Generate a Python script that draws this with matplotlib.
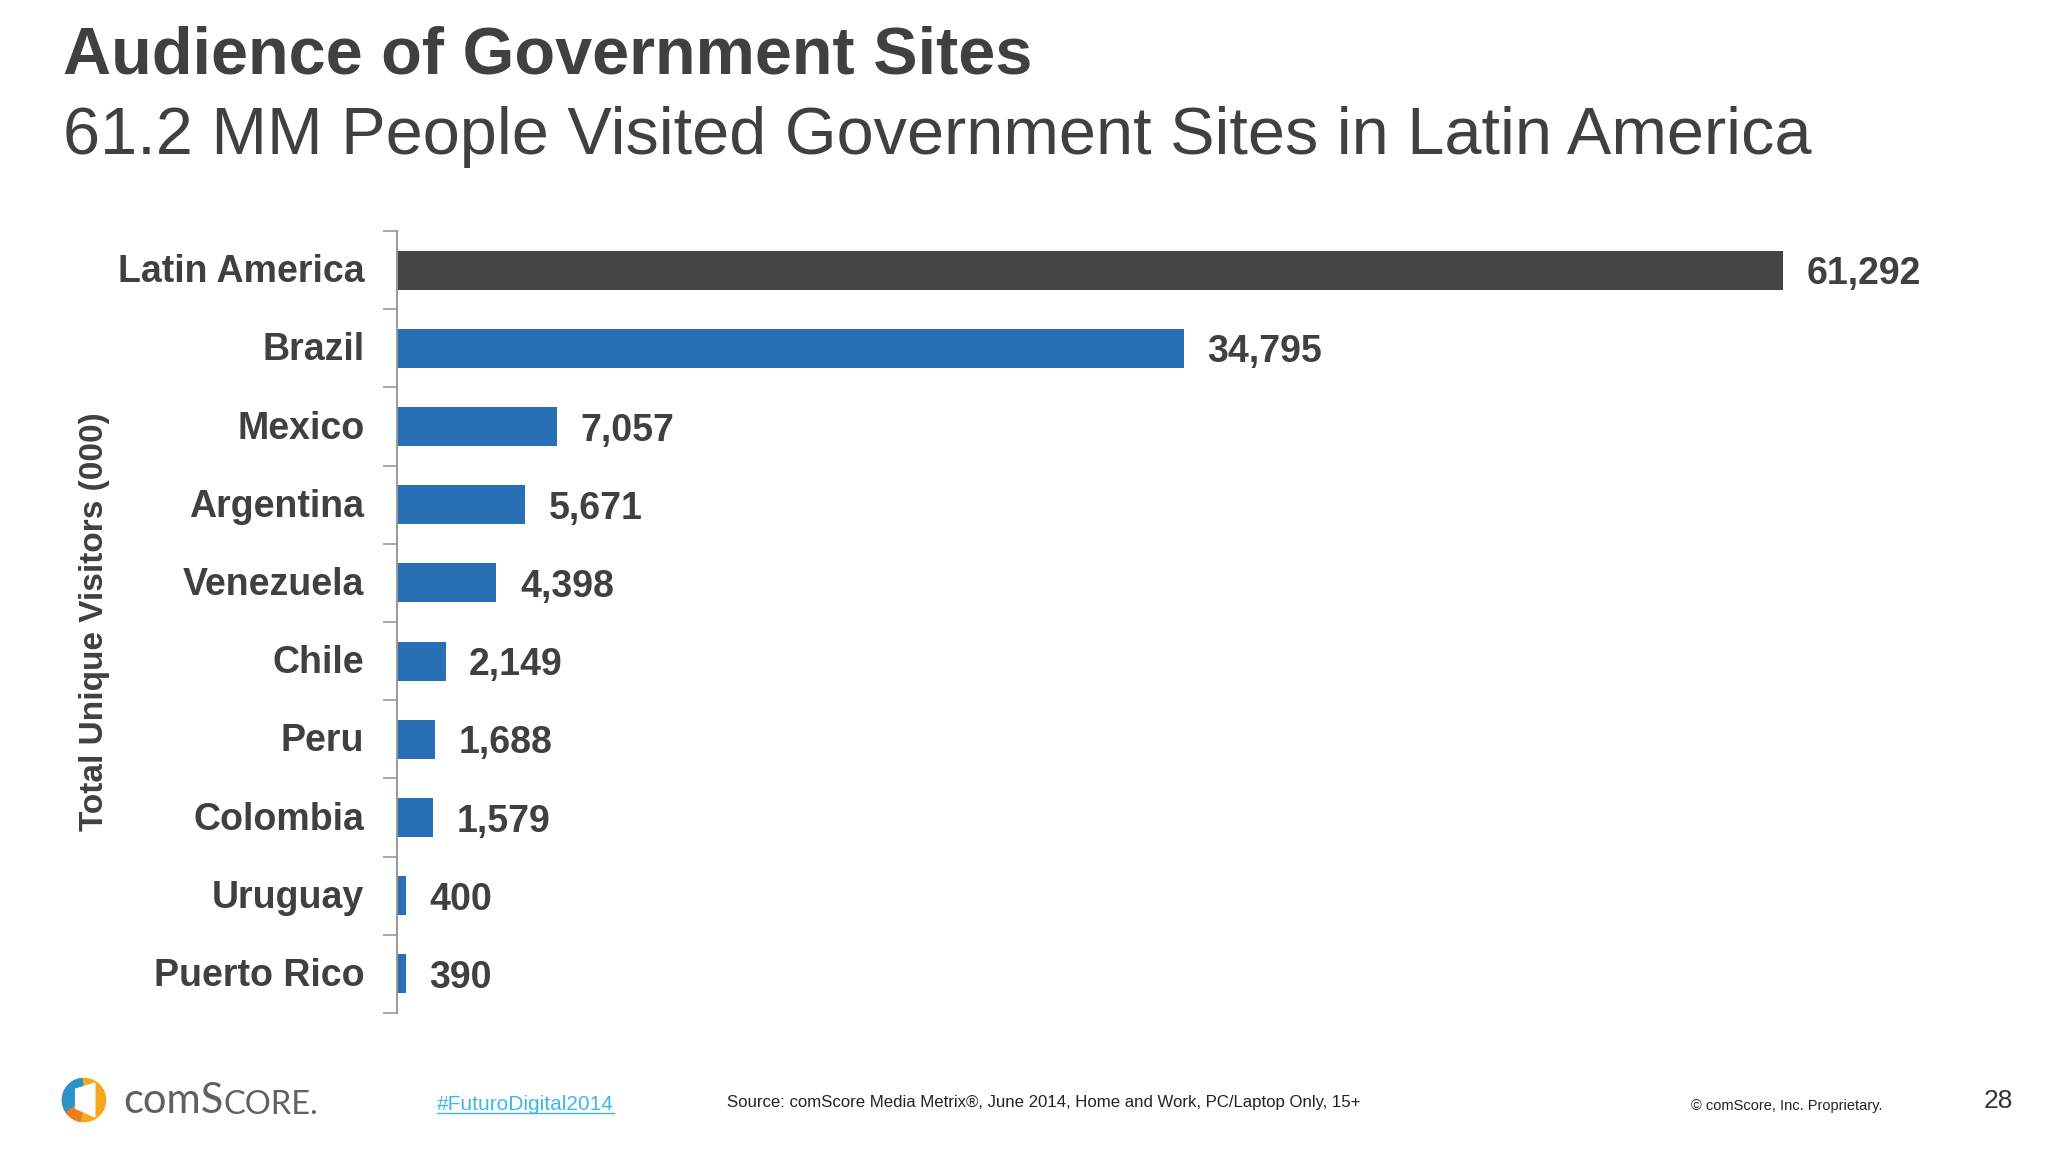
import matplotlib
matplotlib.use("Agg")
import matplotlib.pyplot as plt
from matplotlib.patches import Circle, Wedge, Polygon
from matplotlib.lines import Line2D

plt.rcParams['font.family'] = ['Liberation Sans', 'DejaVu Sans']

# data (thousands of unique visitors)
countries = ["Latin America", "Brazil", "Mexico", "Argentina", "Venezuela",
             "Chile", "Peru", "Colombia", "Uruguay", "Puerto Rico"]
visitors = [61292, 34795, 7057, 5671, 4398, 2149, 1688, 1579, 400, 390]
bar_colors = ["#454545"] + ["#2870B6"] * 9

title = "Audience of Government Sites"
subtitle = "61.2 MM People Visited Government Sites in Latin America"
ylabel = "Total Unique Visitors (000)"
source = "Source: comScore Media Metrix®, June 2014, Home and Work, PC/Laptop Only, 15+"

W, H = 2048, 1152
txt = "#404040"

fig = plt.figure(figsize=(W / 100, H / 100), dpi=100)

# axes box in pixels: x 397..1950, y 231..1013 (from top)
ax = fig.add_axes([397 / W, 1 - 1013 / H, (1950 - 397) / W, (1013 - 231) / H])
pos = list(range(len(countries)))
bars = ax.barh(pos, visitors, height=0.5, color=bar_colors)
ax.set_ylim(len(countries) - 0.5, -0.5)
ax.set_xlim(0, 61292 * (1950 - 397) / (1783 - 397))

# tick marks between categories
ax.set_yticks([p - 0.5 for p in range(len(countries) + 1)])
ax.set_yticklabels([])
ax.tick_params(axis='y', which='major', length=10, width=1.2, color="#999999")

ax.xaxis.set_visible(False)
for s in ["top", "right", "bottom"]:
    ax.spines[s].set_visible(False)
ax.spines["left"].set_color("#999999")
ax.spines["left"].set_linewidth(1.4)

# category names
for p, c in zip(pos, countries):
    ax.annotate(c, (0, p), xycoords=('axes fraction', 'data'),
                xytext=(-23.5, -1.5), textcoords='offset points',
                ha='right', va='center', fontsize=27, fontweight='bold', color=txt)

# value labels
for b, v in zip(bars, visitors):
    ax.annotate(f"{v:,}", (v, b.get_y() + b.get_height() / 2),
                xytext=(17, -3), textcoords='offset points', va='center',
                fontsize=27, fontweight='bold', color=txt)

fig.text(95 / W, 1 - 622 / H, ylabel, rotation=90, ha='center', va='center',
         fontsize=24, fontweight='bold', color=txt)

fig.text(63 / W, 1 - 73 / H, title, fontsize=48, fontweight='bold', color=txt,
         va='baseline')
fig.text(63 / W, 1 - 154 / H, subtitle, fontsize=48, color=txt, va='baseline')

# footer
hashtag = fig.text(437 / W, 1 - 1104 / H, "#FuturoDigital2014", fontsize=15,
                   color="#3FB6E8", va='center')
fig.text(727 / W, 1 - 1102 / H, source, fontsize=12.1, color="#222222", va='center')
fig.text(1691 / W, 1 - 1106 / H, "© comScore, Inc. Proprietary.", fontsize=10.5,
         color="#222222", va='center')
fig.text(1998 / W, 1 - 1101 / H, "28", fontsize=19, color="#333333",
         va='center', ha='center')

# logo
lax = fig.add_axes([60 / W, 1 - 1124 / H, 48 / W, 48 / H])
lax.set_xlim(-1, 1)
lax.set_ylim(-1, 1)
lax.set_aspect('equal')
lax.axis('off')
lax.add_patch(Circle((0, 0), 0.9, color="#F6A71C"))
lax.add_patch(Wedge((0, 0), 0.9, 95, 215, color="#2A93C8"))
lax.add_patch(Wedge((0, 0), 0.9, 215, 260, color="#EE7A22"))
lax.add_patch(Polygon([(-0.35, 0.45), (0.45, 0.7), (0.45, -0.7), (-0.35, -0.35)],
                      closed=True, color="white"))
fig.text(123 / W, 1 - 1101 / H, "comS", fontsize=30, color="#606060",
         va='center', family=['Lato', 'DejaVu Sans'])
fig.canvas.draw()
r = fig.canvas.get_renderer()
bb = fig.texts[-1].get_window_extent(r)
fig.text(bb.x1 / W, bb.y0 / H, "CORE.", fontsize=23.5, color="#606060",
         va='bottom', family=['Lato', 'DejaVu Sans'])

# underline hashtag
hb = hashtag.get_window_extent(r)
fig.add_artist(Line2D([hb.x0 / W, hb.x1 / W], [(hb.y0 + 1) / H] * 2,
                      color="#3FB6E8", lw=1))

fig.savefig("out.png", dpi=100, facecolor="white")
